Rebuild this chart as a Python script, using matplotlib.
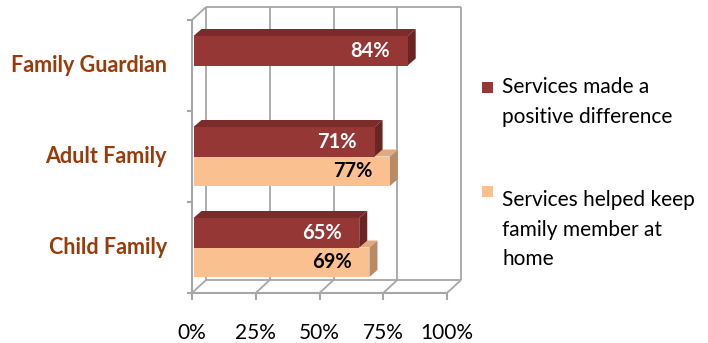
import matplotlib

matplotlib.use("Agg")
import matplotlib.pyplot as plt
from matplotlib.patches import Polygon, Rectangle

# survey results, bottom to top
categories = ["Child Family", "Adult Family", "Family Guardian"]
positive_diff = [65, 71, 84]
kept_home = [69, 77, None]
series_names = [
    "Services made a\npositive difference",
    "Services helped keep\nfamily member at\nhome",
]
x_ticks = [0, 25, 50, 75, 100]
x_tick_labels = ["0%", "25%", "50%", "75%", "100%"]

DARK, DARK_TOP, DARK_SIDE = "#953735", "#7b2c2a", "#6a2523"
LIGHT, LIGHT_TOP, LIGHT_SIDE = "#fac090", "#e2aa7c", "#b88a66"
GRID = "#a6a6a6"
CAT_COLOR = "#993a0a"
FONT = "Lato"

W, H = 708, 343
fig = plt.figure(figsize=(W / 100, H / 100), dpi=100)
ax = fig.add_axes([192 / W, 50 / H, 255 / W, 273 / H])
ax.set_xlim(0, 100)
ax.set_ylim(0, 3)
ax.axis("off")

# pixel -> data unit sizes
px_x = 100 / 255
px_y = 3 / 273
wall_dx, wall_dy = 14 * px_x, 13 * px_y
bar_dx, bar_dy = 8 * px_x, 7 * px_y
bar_x0 = 1.5 * px_x
bar_h = 29.5 * px_y
n = len(categories)


def line(xs, ys, lw=1.3):
    ax.plot(xs, ys, color=GRID, lw=lw, clip_on=False, zorder=1, solid_capstyle="butt")


# back wall, floor and left wall outline
for t in x_ticks:
    line([t + wall_dx] * 2, [wall_dy, n + wall_dy])
    line([t, t + wall_dx], [0, wall_dy])
line([wall_dx, 100 + wall_dx], [n + wall_dy] * 2)
line([wall_dx, 100 + wall_dx], [wall_dy] * 2)
line([0, wall_dx], [n, n + wall_dy])

# front axes with tick marks
line([0, 0], [0, n], lw=1.5)
line([0, 100], [0, 0], lw=1.5)
for k in range(n + 1):
    line([0, -5 * px_x], [k, k], lw=1.5)
for t in x_ticks:
    line([t, t], [0, -7 * px_y], lw=1.5)


def bar3d(y0, v, front, top, side, z):
    y1 = y0 + bar_h
    x1 = bar_x0 + v
    ax.barh(y0, v, height=bar_h, left=bar_x0, align="edge", color=front,
            lw=0, zorder=z + 0.2)
    ax.add_patch(Polygon([(bar_x0, y1), (x1, y1), (x1 + bar_dx, y1 + bar_dy),
                          (bar_x0 + bar_dx, y1 + bar_dy)],
                         closed=True, fc=top, lw=0, zorder=z, clip_on=False))
    ax.add_patch(Polygon([(x1, y0), (x1 + bar_dx, y0 + bar_dy),
                          (x1 + bar_dx, y1 + bar_dy), (x1, y1)],
                         closed=True, fc=side, lw=0, zorder=z + 0.1, clip_on=False))


for i in range(n):
    mid = i + 0.5
    if kept_home[i] is not None:
        v = kept_home[i]
        bar3d(mid - bar_h, v, LIGHT, LIGHT_TOP, LIGHT_SIDE, 3)
        ax.text(bar_x0 + v - 7, mid - bar_h / 2, f"{v}%", ha="right", va="center",
                fontsize=14.5, fontweight="bold", family=FONT, color="black", zorder=10)
    v = positive_diff[i]
    bar3d(mid, v, DARK, DARK_TOP, DARK_SIDE, 5)
    ax.text(bar_x0 + v - 7, mid + bar_h / 2, f"{v}%", ha="right", va="center",
            fontsize=14.5, fontweight="bold", family=FONT, color="white", zorder=10)

    ax.text(-25 * px_x, mid, categories[i], ha="right", va="center",
            fontsize=15.5, fontweight="bold", family=FONT, color=CAT_COLOR)

for t, lab in zip(x_ticks, x_tick_labels):
    ax.text(t, -40 * px_y, lab, ha="center", va="center", fontsize=15,
            family=FONT, color="black")

# legend
for (sq_top, txt_top), name, col in zip([(82, 77), (186, 190)], series_names, [DARK, LIGHT]):
    fig.add_artist(Rectangle((482 / W, 1 - (sq_top + 11) / H), 11 / W, 11 / H,
                             transform=fig.transFigure, fc=col, lw=0))
    fig.text(502 / W, 1 - txt_top / H, name, ha="left", va="top", fontsize=15,
             family=FONT, color="black", linespacing=1.6)

fig.savefig("out.png", dpi=100)
